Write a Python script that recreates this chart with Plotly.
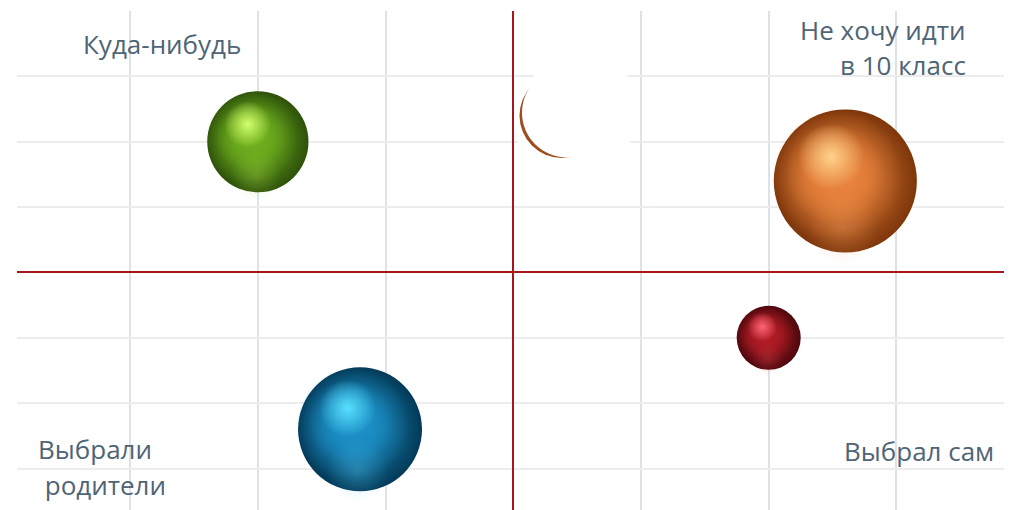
import plotly.graph_objects as go

# ---------------- data ----------------
series = ["Ряд 1", "Ряд 2", "Ряд 3", "Ряд 4"]
x_vals = [-2.0, -1.2, 2.0, 2.6]
y_vals = [2.0, -2.4, -1.0, 1.4]
size_vals = [10, 15, 4, 20]

# partially hidden bubble near the vertical axis
hidden_x = [0.38]
hidden_y = [2.4]
hidden_size = [7]

quad_labels = ["Куда-нибудь", "Не хочу идти", "в 10 класс", "Выбрали", " родители", "Выбрал сам"]

# colours: dark edge, body, highlight, rim reflection
dark_cols = ["#2e520a", "#033a58", "#4e080d", "#7e360a"]
body_cols = ["#6dad1d", "#1b8fc6", "#b01b24", "#e8823c"]
hl_cols = ["#d2ff6c", "#58e0ff", "#ff6676", "#ffd28a"]
rim_cols = ["#a8dc4c", "#58caf2", "#d2444e", "#f6a462"]

# ---------------- layout geometry ----------------
PAGE = 8                      # default body margin of the html page
W, H = 1004, 502
ML, MR, MT, MB = 9, 0, 3, 0
XR = [-3.886, 3.905]
YR = [-3.634, 4.0]
SX = (W - ML - MR) / (XR[1] - XR[0])   # px per x unit
SY = (H - MT - MB) / (YR[1] - YR[0])   # px per y unit
SIZEREF = 1 / 512.0


def diam(v):
    return (2 * v / SIZEREF) ** 0.5


def px2x(p):
    return XR[0] + (p - PAGE - ML) / SX


def px2y(p):
    return YR[1] - (p - PAGE - MT) / SY


def rgba(hexc, a):
    h = hexc.lstrip("#")
    r, g, b = int(h[0:2], 16), int(h[2:4], 16), int(h[4:6], 16)
    return f"rgba({r},{g},{b},{a})"


fig = go.Figure()

diams = [diam(v) for v in size_vals]

# base layer: full bubble, dark edge -> body centre
fig.add_trace(go.Scatter(
    x=x_vals, y=y_vals, mode="markers", text=series, hoverinfo="text",
    marker=dict(size=size_vals, sizemode="area", sizeref=SIZEREF,
                color=dark_cols, line=dict(width=0), opacity=1,
                gradient=dict(type="radial", color=body_cols)),
    showlegend=False))


def layer(fx, fy, fs, outer, inner):
    xs = [x + fx * d / SX for x, d in zip(x_vals, diams)]
    ys = [y + fy * d / SY for y, d in zip(y_vals, diams)]
    ss = [fs * d for d in diams]
    fig.add_trace(go.Scatter(
        x=xs, y=ys, mode="markers", hoverinfo="skip",
        marker=dict(size=ss, sizemode="diameter", color=outer, opacity=1,
                    line=dict(width=0),
                    gradient=dict(type="radial", color=inner)),
        showlegend=False))


# body fill (shifted up-left so the right / lower edge stays darker)
layer(-0.06, 0.04, 0.92, [rgba(c, 0) for c in body_cols], [rgba(c, 1) for c in body_cols])
layer(-0.07, 0.05, 0.7, [rgba(c, 0) for c in body_cols], [rgba(c, 1) for c in body_cols])
# soft reflection near the bottom
layer(-0.02, -0.33, 0.5, [rgba(c, 0) for c in rim_cols], [rgba(c, 0.3) for c in rim_cols])
# specular highlight
layer(-0.1, 0.17, 0.46, [rgba(c, 0) for c in hl_cols], [rgba(c, 1) for c in hl_cols])

# hidden bubble: brown sphere with a white cover leaving a crescent
hd = [diam(v) for v in hidden_size]
fig.add_trace(go.Scatter(
    x=hidden_x, y=hidden_y, mode="markers", hoverinfo="skip",
    marker=dict(size=hidden_size, sizemode="area", sizeref=SIZEREF, opacity=1,
                color="#9a4a1c", line=dict(width=0),
                gradient=dict(type="radial", color="#e08a4a")),
    showlegend=False))
fig.add_trace(go.Scatter(
    x=[x + 5 / SX for x in hidden_x], y=[y + 3 / SY for y in hidden_y],
    mode="markers", hoverinfo="skip",
    marker=dict(size=[d + 5 for d in hd], sizemode="diameter", opacity=1,
                color="white", line=dict(width=0)),
    showlegend=False))

# white patch covering the gridlines around the hidden bubble
pts = [(536, 66), (627, 66), (631, 152), (516, 152)]
path = "M " + " L ".join(f"{px2x(a)},{px2y(b)}" for a, b in pts) + " Z"
fig.add_shape(type="path", path=path, xref="x", yref="y",
              fillcolor="white", line=dict(width=0), layer="between")

# ---------------- quadrant labels ----------------
TXT = "#4f6576"
FONT = "Open Sans"
FS = 26
ann = [
    (quad_labels[0], 81, 44, "left"),
    (quad_labels[1], 968, 30, "right"),
    (quad_labels[2], 968, 65, "right"),
    (quad_labels[3], 36, 449, "left"),
    (quad_labels[4], 36, 485, "left"),
    (quad_labels[5], 996, 451, "right"),
]
for t, px, py, anc in ann:
    fig.add_annotation(x=px2x(px), y=px2y(py), xref="x", yref="y", text=t,
                       showarrow=False, xanchor=anc, yanchor="middle",
                       font=dict(family=FONT, size=FS, color=TXT))

fig.update_xaxes(range=XR, dtick=1, tick0=0, showgrid=True, gridcolor="#dde2e9",
                 gridwidth=1.5, zeroline=True, zerolinecolor="#a8161c",
                 zerolinewidth=2, showticklabels=False, showline=False, ticks="")
fig.update_yaxes(range=YR, dtick=1, tick0=0, showgrid=True, gridcolor="#ececec",
                 gridwidth=2, zeroline=True, zerolinecolor="#a8161c",
                 zerolinewidth=2, showticklabels=False, showline=False, ticks="")

fig.update_layout(width=W, height=H, margin=dict(l=ML, r=MR, t=MT, b=MB),
                  plot_bgcolor="white", paper_bgcolor="white", showlegend=False)

fig.write_html("out.html")
